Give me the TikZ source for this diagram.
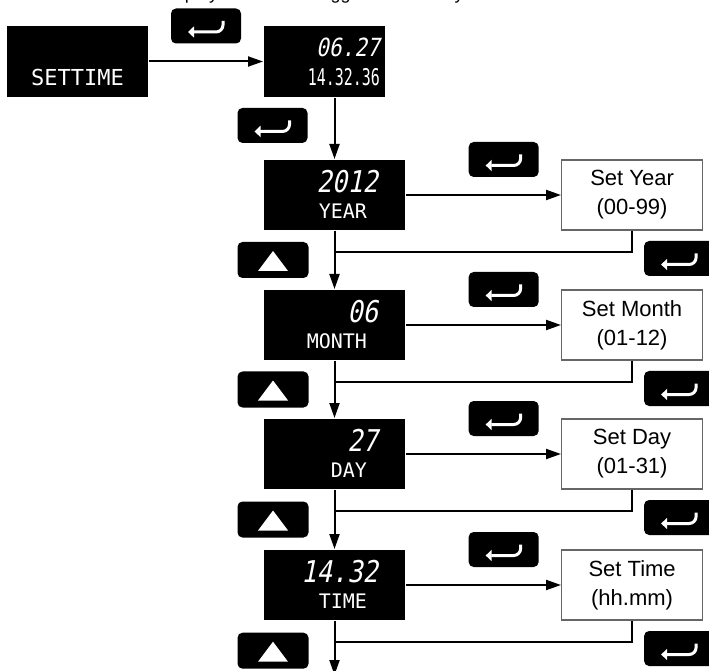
\documentclass[tikz,border=0pt]{standalone}
\usepackage{fontspec}
\setmainfont{Liberation Sans}
\newfontfamily\lcdfont{DejaVu Sans Mono}
\newfontfamily\lcdslant[FakeSlant=0.2,FakeStretch=0.85]{DejaVu Sans Mono}
\newfontfamily\lcdnarrow[FakeStretch=0.65]{DejaVu Sans Mono}
\usetikzlibrary{arrows.meta, positioning}

\begin{document}
\begin{tikzpicture}[
  x=1pt, y=1pt,
  node distance=58pt and 155pt,
  lcd/.style={fill=black, minimum width=141pt, minimum height=70pt, inner sep=0pt},
  setbox/.style={draw=black!60, line width=1.2pt, fill=white, minimum width=141pt,
    minimum height=70pt, align=center, font=\fontsize{22}{29}\selectfont},
  lcdnum/.style={anchor=east, text=white, inner sep=0pt, font=\lcdslant\fontsize{30}{30}\selectfont},
  lcdlabel/.style={anchor=east, text=white, inner sep=0pt, font=\lcdfont\fontsize{20}{20}\selectfont},
  enterkey/.style={fill=black, rounded corners=5pt, minimum width=70pt, minimum height=35pt,
    inner sep=0pt, path picture={
      \draw[white, line width=3pt, rounded corners=7pt, -{Triangle[length=6pt,width=11pt]}]
        ([shift={(17pt,5pt)}]path picture bounding box.center)
        |- ([shift={(-18pt,-6pt)}]path picture bounding box.center);}},
  upkey/.style={fill=black, rounded corners=5pt, minimum width=71pt, minimum height=36pt,
    inner sep=0pt, path picture={
      \fill[white, arrows=-, sharp corners]
        ([shift={(0pt,9pt)}]path picture bounding box.center)
        -- ([shift={(15pt,-11pt)}]path picture bounding box.center)
        -- ([shift={(-15pt,-11pt)}]path picture bounding box.center) -- cycle;}},
  line width=2pt, >={Triangle[length=15pt,width=10pt]}
]
\useasboundingbox (0,0) rectangle (709,670);
\node[anchor=base west, inner sep=0pt, font=\fontsize{18}{18}\selectfont] (caption) at (158,670.5)
  {Display Date/Time Trigger Menu Entry};

% display panels
\node[lcd, minimum height=71pt] (settime) at (77.5,608.5) {};
\node[lcd, minimum width=121pt, minimum height=71pt, right=114pt of settime] (clock) {};
\node[lcd, below right=61pt and 0pt of clock.south west] (year) {};
\node[lcd, below=of year] (month) {};
\node[lcd, below=57pt of month] (day) {};
\node[lcd, below=59pt of day] (time) {};

% setting boxes
\node[setbox, right=of year] (setyear) {Set Year\\(00-99)};
\node[setbox, right=of month] (setmonth) {Set Month\\(01-12)};
\node[setbox, right=of day] (setday) {Set Day\\(01-31)};
\node[setbox, right=of time] (settimebox) {Set Time\\(hh.mm)};

% panel texts
\node[lcdlabel, anchor=center, font=\lcdfont\fontsize{22}{22}\selectfont] (settimetxt)
  at ([yshift=-16pt]settime.center) {SETTIME};
\node[lcdnum, font=\lcdslant\fontsize{25}{25}\selectfont] (clockdate)
  at ([shift={(-5pt,14pt)}]clock.east) {06.27};
\node[lcdlabel, font=\lcdnarrow\fontsize{23}{23}\selectfont] (clocktime)
  at ([shift={(-5pt,-16pt)}]clock.east) {14.32.36};
\node[lcdnum] (yearval) at ([shift={(-27pt,13.5pt)}]year.east) {2012};
\node[lcdlabel] (yearlbl) at ([shift={(-38pt,-16pt)}]year.east) {YEAR};
\node[lcdnum] (monthval) at ([shift={(-27pt,13.5pt)}]month.east) {06};
\node[lcdlabel] (monthlbl) at ([shift={(-38pt,-16pt)}]month.east) {MONTH};
\node[lcdnum] (dayval) at ([shift={(-27pt,13.5pt)}]day.east) {27};
\node[lcdlabel] (daylbl) at ([shift={(-38pt,-16pt)}]day.east) {DAY};
\node[lcdnum] (timeval) at ([shift={(-27pt,13.5pt)}]time.east) {14.32};
\node[lcdlabel] (timelbl) at ([shift={(-38pt,-16pt)}]time.east) {TIME};

% return points
\coordinate[below=21pt of year] (yearback);
\coordinate[below=21pt of month] (monthback);
\coordinate[below=21pt of day] (dayback);
\coordinate[below=21pt of time] (timeback);
\coordinate[below=54pt of time] (exit);

% connectors
\draw[->] (settime) -- node[enterkey, above=17pt] (keyclock) {} (clock);
\draw[->] (year.north |- clock.south) -- node[enterkey, pos=.45, left=26pt] (keyyear) {} (year);

\draw[->] (year) -- node[enterkey, pos=.63, above=17pt] (keysetyear) {} (setyear);
\draw (setyear) |- node[enterkey, pos=.5, anchor=north west, xshift=11pt, yshift=12pt] (keyyearok) {} (yearback);
\draw[->] (year) -- node[upkey, left=25pt] (upyear) {} (month);

\draw[->] (month) -- node[enterkey, pos=.63, above=17pt] (keysetmonth) {} (setmonth);
\draw (setmonth) |- node[enterkey, pos=.5, anchor=north west, xshift=11pt, yshift=12pt] (keymonthok) {} (monthback);
\draw[->] (month) -- node[upkey, left=25pt] (upmonth) {} (day);

\draw[->] (day) -- node[enterkey, pos=.63, above=17pt] (keysetday) {} (setday);
\draw (setday) |- node[enterkey, pos=.5, anchor=north west, xshift=11pt, yshift=12pt] (keydayok) {} (dayback);
\draw[->] (day) -- node[upkey, left=25pt] (upday) {} (time);

\draw[->] (time) -- node[enterkey, pos=.63, above=17pt] (keysettime) {} (settimebox);
\draw (settimebox) |- node[enterkey, pos=.5, anchor=north west, xshift=11pt, yshift=12pt] (keytimeok) {} (timeback);
\draw[->] (time) -- node[upkey, pos=.55, left=25pt] (uptime) {} (exit);
\end{tikzpicture}
\end{document}
